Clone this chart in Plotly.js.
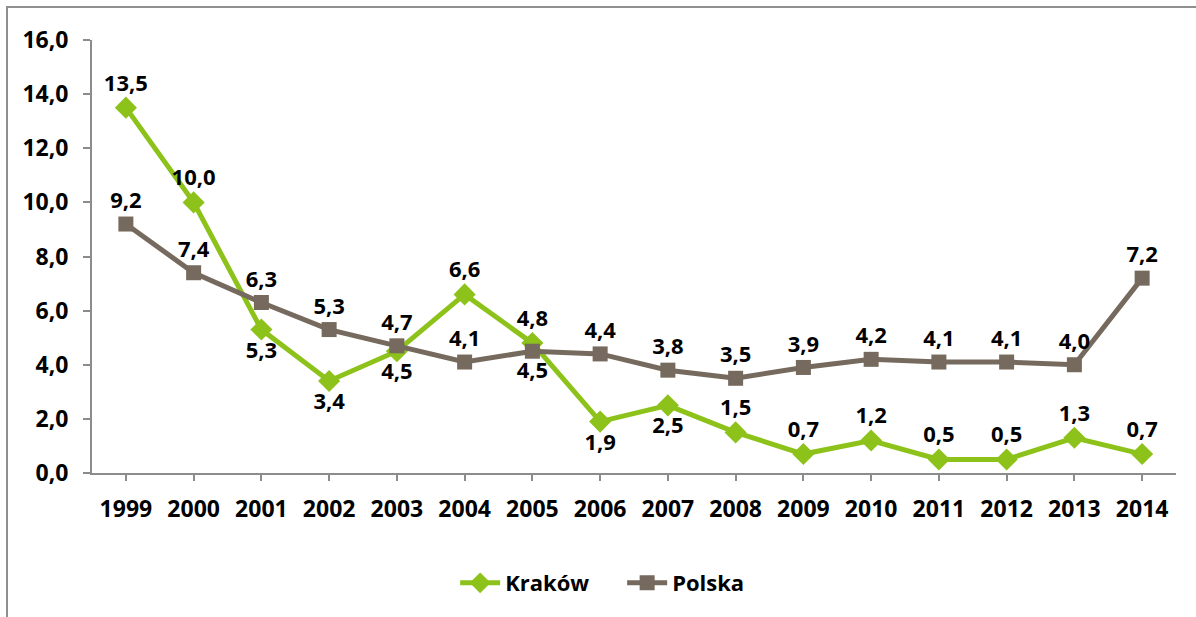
<!DOCTYPE html>
<html>
<head>
<meta charset="utf-8">
<script src="https://cdn.plot.ly/plotly-3.0.1.min.js"></script>
<style>
html,body{margin:0;padding:0;background:#fff;}
#wrap{position:relative;width:1196px;height:617px;overflow:hidden;}
#frame{position:absolute;left:6px;top:6px;width:1300px;height:700px;border-left:2px solid #8f8f8f;border-top:2px solid #8f8f8f;pointer-events:none;}
#chart{position:absolute;left:0;top:0;width:1196px;height:617px;}
</style>
</head>
<body>
<div id="wrap"><div id="chart"></div><div id="frame"></div></div>
<script>
const years = ['1999','2000','2001','2002','2003','2004','2005','2006','2007','2008','2009','2010','2011','2012','2013','2014'];
const krakow = [13.5,10.0,5.3,3.4,4.5,6.6,4.8,1.9,2.5,1.5,0.7,1.2,0.5,0.5,1.3,0.7];
const polska = [9.2,7.4,6.3,5.3,4.7,4.1,4.5,4.4,3.8,3.5,3.9,4.2,4.1,4.1,4.0,7.2];
const krakowLabelPos = ['top','top','bottom','bottom','bottom','top','top','bottom','bottom','top','top','top','top','top','top','top'];
const polskaLabelPos = ['top','top','top','top','top','top','bottom','top','top','top','top','top','top','top','top','top'];

const GREEN = '#8dc21a';
const BROWN = '#756a5d';
const FONT = {family:'"Open Sans", Lato, sans-serif', size:22, color:'#000', weight:700};
const TICKFONT = {family:'"Open Sans", Lato, sans-serif', size:23, color:'#000', weight:700};

const traces = [
  {x: years, y: krakow, name: 'Kraków', type:'scatter', mode:'lines+markers+text',
   line:{color:GREEN, width:5}, marker:{symbol:'diamond', size:17, color:GREEN},
   texttemplate:'%{y:.1f}', textposition: krakowLabelPos.map(p => p + ' center'),
   textfont: FONT, cliponaxis:false, hoverinfo:'x+y'},
  {x: years, y: polska, name: 'Polska', type:'scatter', mode:'lines+markers+text',
   line:{color:BROWN, width:5}, marker:{symbol:'square', size:15, color:BROWN},
   texttemplate:'%{y:.1f}', textposition: polskaLabelPos.map(p => p + ' center'),
   textfont: FONT, cliponaxis:false, hoverinfo:'x+y'}
];

const layout = {
  width:1196, height:617,
  margin:{l:92, r:20, t:40, b:144},
  separators:', ',
  paper_bgcolor:'#fff', plot_bgcolor:'#fff',
  showlegend:true,
  legend:{orientation:'h', x:0.335, xanchor:'left', y:-0.254, yanchor:'middle',
          font:FONT, itemwidth:40, entrywidth:112, tracegroupgap:0},
  xaxis:{type:'category', range:[-0.5,15.5], showline:true, linecolor:'#8c8c8c', linewidth:2,
         ticks:'outside', ticklen:6, tickcolor:'#8c8c8c', tickwidth:2, showgrid:false, zeroline:false,
         tickfont:TICKFONT, ticklabelstandoff:8, fixedrange:true},
  yaxis:{range:[0,16], dtick:2, tickformat:'.1f', showline:true, linecolor:'#8c8c8c', linewidth:2,
         ticks:'outside', ticklen:7, tickcolor:'#8c8c8c', tickwidth:2, showgrid:false, zeroline:false,
         tickfont:TICKFONT, ticklabelstandoff:10, fixedrange:true}
};

Plotly.newPlot('chart', traces, layout, {displayModeBar:false, staticPlot:true});
</script>
</body>
</html>
